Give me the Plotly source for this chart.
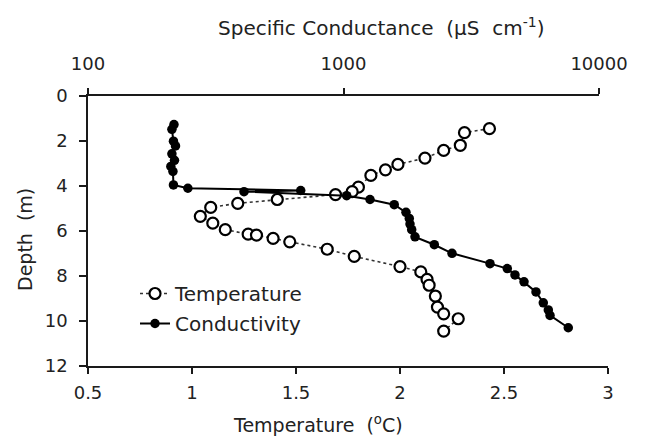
import plotly.graph_objects as go

# ---- data ----
temp_c = [2.43, 2.31, 2.29, 2.21, 2.12, 1.99, 1.93, 1.86, 1.80, 1.77, 1.69,
          1.41, 1.22, 1.09, 1.04, 1.10, 1.16, 1.27, 1.31, 1.39, 1.47, 1.65,
          1.78, 2.00, 2.10, 2.13, 2.14, 2.17, 2.18, 2.21, 2.28, 2.21]
temp_depth = [1.45, 1.63, 2.19, 2.42, 2.76, 3.04, 3.28, 3.53, 4.05, 4.25, 4.38,
              4.60, 4.77, 4.95, 5.35, 5.65, 5.94, 6.14, 6.18, 6.33, 6.48, 6.81,
              7.13, 7.58, 7.82, 8.15, 8.41, 8.89, 9.38, 9.68, 9.90, 10.45]

cond_us = [217, 213, 216, 220, 213, 218, 211, 215, 216, 246, 680, 408, 1029,
           1270, 1580, 1756, 1809, 1821, 1849, 1905, 2267, 2659, 3745, 4376,
           4690, 5088, 5668, 6053, 6333, 6431, 7582]
cond_depth = [1.27, 1.48, 2.01, 2.22, 2.57, 2.86, 3.13, 3.35, 3.95, 4.10, 4.20,
              4.25, 4.43, 4.60, 4.83, 5.17, 5.44, 5.69, 5.94, 6.26, 6.61, 6.99,
              7.45, 7.67, 7.95, 8.26, 8.71, 9.19, 9.51, 9.75, 10.30]

temp_ticks = [0.5, 1, 1.5, 2, 2.5, 3]
temp_labels = ["0.5", "1", "1.5", "2", "2.5", "3"]
cond_ticks = [100, 1000, 10000]
cond_labels = ["100", "1000", "10000"]
depth_ticks = [0, 2, 4, 6, 8, 10, 12]

FONT = "DejaVu Sans"
TXT = "#222222"
AX = "#1a1a1a"

# plot area in page pixels: x 88..608, y 96..366 (top axis ends at 599)
PX0, PX1, PY0, PY1 = 88, 608, 96, 366
TOP_END = 599
PW, PH = PX1 - PX0, PY1 - PY0


def px(X):
    return (X - PX0) / PW


def py(Y):
    return (PY1 - Y) / PH


fig = go.Figure()
fig.add_trace(go.Scatter(
    x=temp_c, y=temp_depth, mode="lines+markers", name="Temperature",
    xaxis="x", yaxis="y",
    line=dict(color="#333333", width=1.6, dash="dot"),
    marker=dict(symbol="circle", size=11, color="white",
                line=dict(color="black", width=2.2)),
    legendgroup="t"))
fig.add_trace(go.Scatter(
    x=cond_us, y=cond_depth, mode="lines+markers", name="Conductivity",
    xaxis="x2", yaxis="y",
    line=dict(color="black", width=2),
    marker=dict(symbol="circle", size=9.5, color="black"),
    legendgroup="c"))

axis_common = dict(showline=True, linecolor=AX, linewidth=1.6, ticks="outside",
                   tickcolor=AX, tickwidth=1.6, showgrid=False, zeroline=False,
                   tickfont=dict(family=FONT, size=18, color=TXT))

# the page body adds an 8px offset, so the figure is 8px smaller each way
fig.update_layout(
    width=650, height=434,
    margin=dict(l=PX0 - 8, r=650 - (PX1 - 8), t=PY0 - 8, b=434 - (PY1 - 8)),
    paper_bgcolor="white", plot_bgcolor="rgba(0,0,0,0)",
    showlegend=True,
    legend=dict(x=px(135), y=py(274), xanchor="left", yanchor="top",
                font=dict(family=FONT, size=20, color=TXT), bgcolor="rgba(0,0,0,0)",
                traceorder="grouped", tracegroupgap=1, borderwidth=0),
    xaxis=dict(range=[0.5, 3], tickvals=temp_ticks, ticktext=temp_labels,
               ticklen=6, ticklabelstandoff=4, anchor="y", domain=[0, 1], **axis_common),
    xaxis2=dict(type="log", range=[2, 4], tickvals=cond_ticks, ticktext=cond_labels,
                ticklen=6, ticklabelstandoff=11, side="top", anchor="y",
                domain=[0, (TOP_END - PX0) / PW], **axis_common),
    yaxis=dict(range=[12, 0], tickvals=depth_ticks, ticklen=7, ticklabelstandoff=8,
               anchor="x", **axis_common),
    annotations=[
        dict(text="Specific Conductance  (μS  cm<sup>-1</sup>)", xref="paper", yref="paper",
             x=px(381), y=py(27), xanchor="center", yanchor="middle",
             showarrow=False, font=dict(family=FONT, size=20, color=TXT)),
        dict(text="Temperature  (<sup>o</sup>C)", xref="paper", yref="paper",
             x=px(318), y=py(424), xanchor="center", yanchor="middle",
             showarrow=False, font=dict(family=FONT, size=19, color=TXT)),
        dict(text="Depth  (m)", xref="paper", yref="paper", textangle=-90,
             x=px(25), y=py(240), xanchor="center", yanchor="middle",
             showarrow=False, font=dict(family=FONT, size=19, color=TXT)),
    ],
)

fig.write_html("out.html")
